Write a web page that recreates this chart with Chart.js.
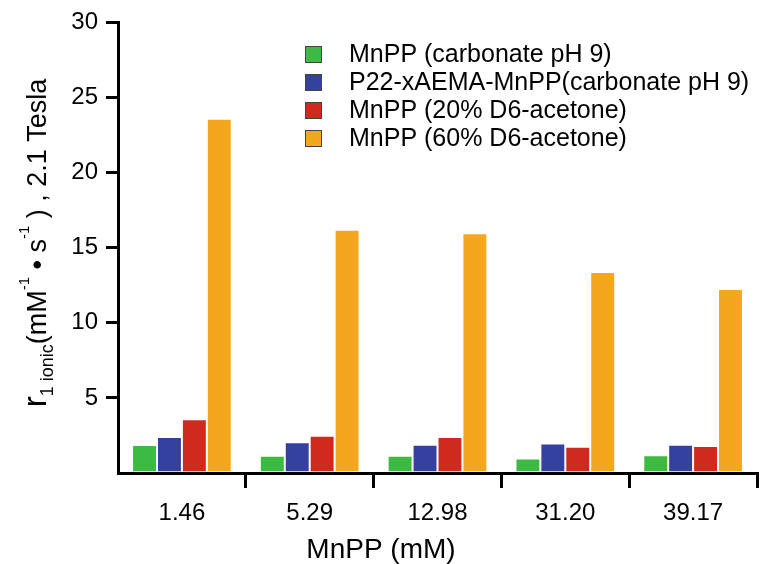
<!DOCTYPE html>
<html>
<head>
<meta charset="utf-8">
<script src="https://cdn.jsdelivr.net/npm/chart.js@4"></script>
<style>
  html, body { margin: 0; padding: 0; background: #fff; }
  #wrap { width: 765px; height: 564px; }
</style>
</head>
<body>
<div id="wrap"><canvas id="chart" width="765" height="564"></canvas></div>
<script>
const FONT = "'Liberation Sans', Arial, Helvetica, sans-serif";

// MnPP concentration (mM) on the x axis
const concentrations = ['1.46', '5.29', '12.98', '31.20', '39.17'];

// r1 ionic relaxivity (mM^-1 s^-1) at 2.1 Tesla
const mnppCarbonate = [1.86, 1.15, 1.15, 0.97, 1.19];
const p22Carbonate = [2.39, 2.04, 1.88, 1.97, 1.88];
const mnppAcetone20 = [3.58, 2.48, 2.39, 1.75, 1.79];
const mnppAcetone60 = [23.58, 16.2, 15.96, 13.38, 12.25];

const seriesLabels = [
  'MnPP (carbonate pH 9)',
  'P22-xAEMA-MnPP(carbonate pH 9)',
  'MnPP (20% D6-acetone)',
  'MnPP (60% D6-acetone)',
];
const seriesColors = ['#3dba41', '#3541a0', '#d02a1d', '#f5a61f'];
const seriesValues = [mnppCarbonate, p22Carbonate, mnppAcetone20, mnppAcetone60];

const yTicks = [0, 5, 10, 15, 20, 25, 30];

// legend drawn by hand, top right inside the plot
const legendPlugin = {
  id: 'boxLegend',
  afterDraw(chart) {
    const ctx = chart.ctx;
    ctx.save();
    ctx.font = `25px ${FONT}`;
    ctx.textBaseline = 'middle';
    chart.data.datasets.forEach((ds, i) => {
      const y = 54 + i * 28;
      ctx.fillStyle = ds.backgroundColor;
      ctx.fillRect(305, y - 8, 17, 17);
      ctx.strokeStyle = '#444';
      ctx.lineWidth = 1;
      ctx.strokeRect(305.5, y - 7.5, 16, 16);
      ctx.fillStyle = '#000';
      ctx.fillText(ds.label, 349, y + 1);
    });
    ctx.restore();
  },
};

// axis titles with sub/superscripts
const titlePlugin = {
  id: 'axisTitles',
  afterDraw(chart) {
    const ctx = chart.ctx;
    ctx.save();
    ctx.fillStyle = '#000';
    ctx.textBaseline = 'alphabetic';

    ctx.font = `28px ${FONT}`;
    ctx.textAlign = 'center';
    ctx.fillText('MnPP (mM)', 381, 558);

    const parts = [
      { t: 'r', size: 33, dy: 0 },
      { t: '1 ionic', size: 18, dy: 7 },
      { t: '(mM', size: 27, dy: 0 },
      { t: '-1', size: 15, dy: -17 },
      { t: ' \u2022 s', size: 27, dy: 0 },
      { t: '-1', size: 15, dy: -17 },
      { t: ' ) , 2.1 Tesla', size: 27, dy: 0 },
    ];
    let total = 0;
    parts.forEach(p => {
      ctx.font = `${p.size}px ${FONT}`;
      p.w = ctx.measureText(p.t).width;
      total += p.w;
    });
    ctx.translate(46, 243);
    ctx.rotate(-Math.PI / 2);
    ctx.textAlign = 'left';
    let x = -total / 2;
    parts.forEach(p => {
      ctx.font = `${p.size}px ${FONT}`;
      ctx.fillText(p.t, x, p.dy);
      x += p.w;
    });
    ctx.restore();
  },
};

new Chart(document.getElementById('chart'), {
  type: 'bar',
  data: {
    labels: concentrations,
    datasets: seriesValues.map((vals, i) => ({
      label: seriesLabels[i],
      data: vals,
      backgroundColor: seriesColors[i],
      borderColor: 'rgba(255,255,255,0.9)',
      borderWidth: 1,
      categoryPercentage: 0.78,
      barPercentage: 1,
    })),
  },
  options: {
    responsive: false,
    animation: false,
    layout: { padding: { left: 0, right: 8, top: 20, bottom: 0 } },
    plugins: {
      legend: { display: false },
      tooltip: { enabled: false },
    },
    scales: {
      x: {
        offset: true,
        grid: {
          offset: true,
          drawOnChartArea: false,
          drawTicks: true,
          tickLength: 15,
          lineWidth: 3,
          color: c => (c.index === 0 ? 'rgba(0,0,0,0)' : '#000'),
        },
        border: { display: true, color: '#000', width: 3 },
        ticks: { color: '#000', font: { family: FONT, size: 24 }, padding: 11 },
        afterFit: s => { s.height = 91; },
      },
      y: {
        min: 0,
        max: 30,
        afterBuildTicks: s => { s.ticks = yTicks.map(v => ({ value: v })); },
        grid: {
          drawOnChartArea: false,
          drawTicks: true,
          tickLength: 12,
          lineWidth: 3,
          color: c => (c.tick && c.tick.value === 0 ? 'rgba(0,0,0,0)' : '#000'),
        },
        border: { display: true, color: '#000', width: 3 },
        ticks: {
          color: '#000',
          font: { family: FONT, size: 24 },
          padding: 8,
          callback: v => (v === 0 ? '' : v),
        },
        afterFit: s => { s.width = 118; },
      },
    },
  },
  plugins: [legendPlugin, titlePlugin],
});
</script>
</body>
</html>
